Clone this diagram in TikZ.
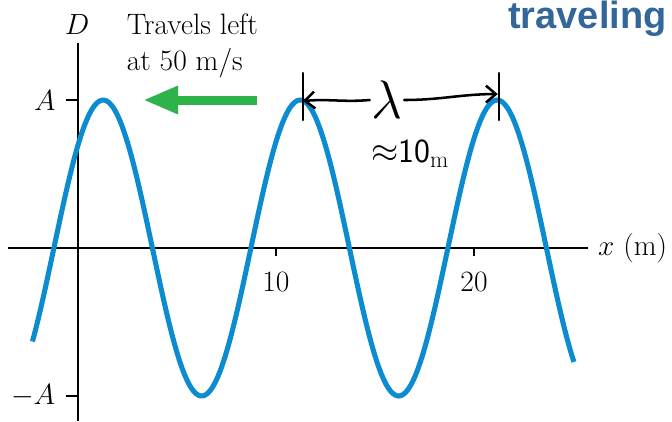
\documentclass[tikz,border=0pt]{standalone}
\usepackage{amsmath, amssymb}
\usepackage{graphicx}
\usepackage{fontspec}
\newfontfamily\headfont{Liberation Sans}
\usetikzlibrary{arrows.meta}

\definecolor{waveblue}{RGB}{12,139,208}
\definecolor{arrowgreen}{RGB}{45,179,74}
\definecolor{titleblue}{RGB}{51,102,153}

\begin{document}
\begin{tikzpicture}[x=0.495cm, y=3.7cm,
        axis/.style={line width=1.4pt},
        wave/.style={waveblue, line width=3.6pt},
        hand/.style={line width=1.8pt, line cap=round},
        lbl/.style={font=\fontsize{21}{26}\selectfont, inner sep=0pt}]
        \useasboundingbox (-3.9394,-1.1689) rectangle (30.0,1.6757);

        % --- AXES ---
        \draw[axis] (-3.535,0) -- (25.76,0);
        \draw[axis] (0,1.385) -- (0,-1.17);
        \draw[axis] (-0.6,1) -- (0,1);
        \draw[axis] (-0.6,-1) -- (0,-1);
        \draw[axis] (10,0) -- (10,-0.055);
        \draw[axis] (20,0) -- (20,-0.055);

        \node (dlabel) at (-0.05,1.51) [lbl] {$D$};
        \node (alabel) at (-1.67,0.995) [lbl] {$A$};
        \node (malabel) at (-2.27,-1.0) [lbl] {$-A$};
        \node (ten) at (10,-0.23) [lbl] {10};
        \node (twenty) at (20,-0.23) [lbl] {20};
        \node (xlabel) at (26.26,0) [lbl, anchor=west] {$x$ (m)};

        % --- WAVE ---
        \draw[wave] plot[domain=-2.3:25.05, samples=220, smooth] (\x, {cos(360*(\x-1.27)/9.95)});

        % --- DIRECTION ---
        \node (travels) at (2.45,1.585) [lbl, anchor=north west, align=left] {Travels left\\at 50 m/s};
        \coordinate (gtail) at (9.04,1.0);
        \coordinate (ghead) at (3.28,1.0);
        \draw[arrowgreen, line width=6.4pt, -{Triangle[length=25pt, width=18.5pt]}] (gtail) -- (ghead);

        \node (title) at (21.72,1.672) [anchor=north west, inner sep=0pt, text=titleblue,
            font=\headfont\bfseries\fontsize{27}{30}\selectfont] {traveling};

        % --- WAVELENGTH (hand written) ---
        \coordinate (barlt) at (11.36,1.182);
        \coordinate (barlb) at (11.36,0.865);
        \coordinate (barrt) at (21.26,1.182);
        \coordinate (barrb) at (21.26,0.865);
        \coordinate (laml) at (11.36,0.993);
        \coordinate (lamr) at (21.2,1.04);
        \draw[hand] (barlt) -- (barlb);
        \draw[hand] (barrt) -- (barrb);
        \node (lam) at (15.6,1.0) [inner sep=1pt, font=\fontsize{24}{24}\selectfont] {\scalebox{1.55}{$\lambda$}};
        \draw[hand, -{Straight Barb[length=7pt, width=12pt]}] (lam.west) to[out=185, in=5] (laml);
        \draw[hand, -{Straight Barb[length=7pt, width=12pt]}] (lam.east) to[out=0, in=180] (lamr);
        \node (approx) at (16.77,0.64) [font=\sffamily\fontsize{24}{24}\selectfont] {$\approx$10$_{\mathrm{m}}$};
    \end{tikzpicture}
\end{document}
